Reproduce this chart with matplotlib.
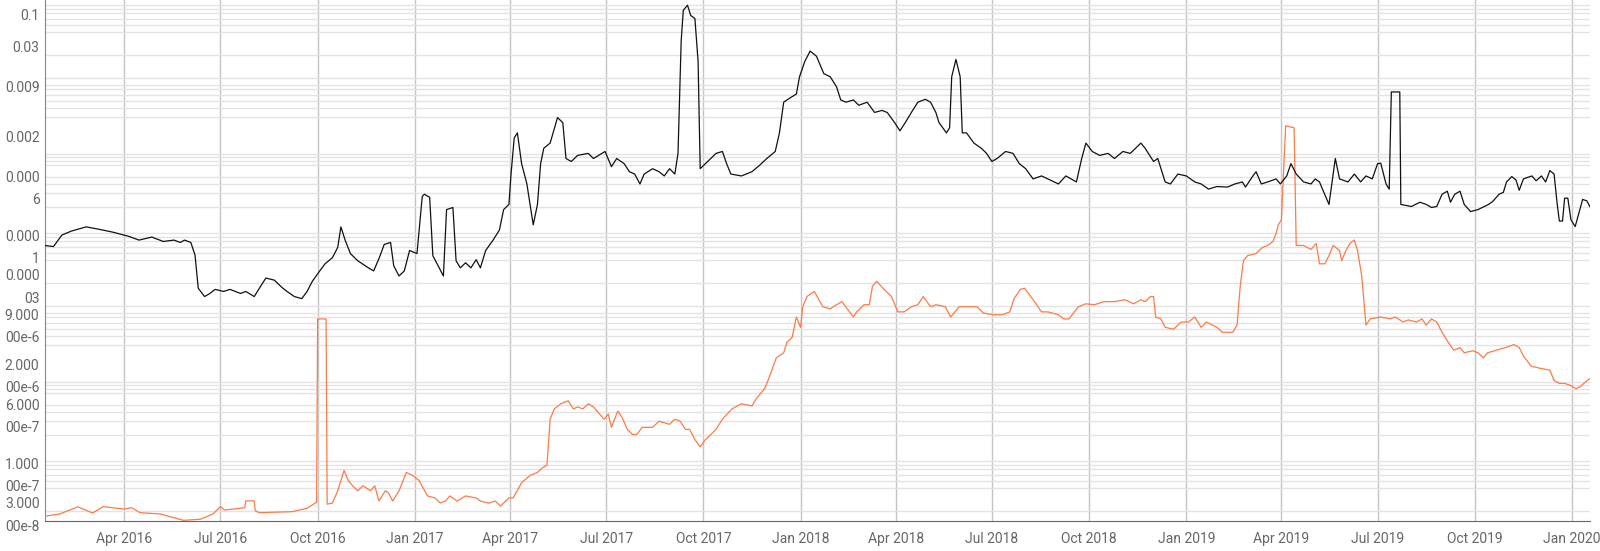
import matplotlib
matplotlib.use("Agg")
import matplotlib.pyplot as plt
import matplotlib.dates as mdates
import matplotlib.ticker as mticker
from matplotlib.transforms import ScaledTranslation
import pandas as pd

# ---------------- data ----------------
black_dates = [
    "2016-01-17", "2016-01-25", "2016-02-02", "2016-02-11", "2016-02-25", "2016-03-07", "2016-03-21",
    "2016-04-05", "2016-04-15", "2016-04-27", "2016-05-08", "2016-05-18", "2016-05-24", "2016-05-28",
    "2016-06-03", "2016-06-07", "2016-06-10", "2016-06-16", "2016-06-21", "2016-06-26", "2016-07-04",
    "2016-07-10", "2016-07-20", "2016-07-25", "2016-08-02", "2016-08-08", "2016-08-13", "2016-08-21",
    "2016-08-28", "2016-09-02", "2016-09-09", "2016-09-16", "2016-09-21", "2016-09-26", "2016-10-03",
    "2016-10-08", "2016-10-15", "2016-10-20", "2016-10-23", "2016-10-27", "2016-11-01", "2016-11-08",
    "2016-11-18", "2016-11-23", "2016-11-28", "2016-12-03", "2016-12-09", "2016-12-12", "2016-12-17",
    "2016-12-22", "2016-12-27", "2017-01-03", "2017-01-08", "2017-01-10", "2017-01-15", "2017-01-18",
    "2017-01-23", "2017-01-28", "2017-01-31", "2017-02-06", "2017-02-09", "2017-02-13", "2017-02-18",
    "2017-02-23", "2017-02-28", "2017-03-04", "2017-03-09", "2017-03-16", "2017-03-22", "2017-03-26",
    "2017-03-31", "2017-04-02", "2017-04-05", "2017-04-08", "2017-04-12", "2017-04-17", "2017-04-20",
    "2017-04-23", "2017-04-27", "2017-04-30", "2017-05-03", "2017-05-09", "2017-05-16", "2017-05-21",
    "2017-05-24", "2017-05-29", "2017-06-04", "2017-06-14", "2017-06-19", "2017-06-27", "2017-06-30",
    "2017-07-06", "2017-07-11", "2017-07-18", "2017-07-23", "2017-07-28", "2017-08-02", "2017-08-06",
    "2017-08-14", "2017-08-20", "2017-08-25", "2017-08-30", "2017-09-04", "2017-09-07", "2017-09-10",
    "2017-09-12", "2017-09-16", "2017-09-19", "2017-09-23", "2017-09-26", "2017-09-28", "2017-10-03",
    "2017-10-08", "2017-10-13", "2017-10-19", "2017-10-23", "2017-10-27", "2017-11-06", "2017-11-16",
    "2017-11-23", "2017-11-30", "2017-12-08", "2017-12-12", "2017-12-16", "2017-12-20", "2017-12-28",
    "2017-12-31", "2018-01-05", "2018-01-10", "2018-01-16", "2018-01-23", "2018-01-29", "2018-02-04",
    "2018-02-08", "2018-02-13", "2018-02-20", "2018-02-25", "2018-03-05", "2018-03-12", "2018-03-19",
    "2018-03-24", "2018-03-31", "2018-04-05", "2018-04-10", "2018-04-17", "2018-04-22", "2018-04-29",
    "2018-05-04", "2018-05-09", "2018-05-12", "2018-05-19", "2018-05-22", "2018-05-24", "2018-05-28",
    "2018-06-01", "2018-06-03", "2018-06-07", "2018-06-14", "2018-06-21", "2018-06-26", "2018-07-01",
    "2018-07-06", "2018-07-14", "2018-07-21", "2018-07-27", "2018-08-02", "2018-08-09", "2018-08-17",
    "2018-08-23", "2018-09-02", "2018-09-09", "2018-09-14", "2018-09-19", "2018-09-24", "2018-09-28",
    "2018-10-04", "2018-10-11", "2018-10-19", "2018-10-25", "2018-11-02", "2018-11-09", "2018-11-14",
    "2018-11-19", "2018-11-23", "2018-12-01", "2018-12-05", "2018-12-12", "2018-12-17", "2018-12-24",
    "2019-01-01", "2019-01-09", "2019-01-15", "2019-01-22", "2019-01-30", "2019-02-09", "2019-02-16",
    "2019-02-23", "2019-02-26", "2019-03-05", "2019-03-08", "2019-03-13", "2019-03-19", "2019-03-27",
    "2019-03-31", "2019-04-06", "2019-04-10", "2019-04-15", "2019-04-22", "2019-04-29", "2019-05-03",
    "2019-05-07", "2019-05-14", "2019-05-16", "2019-05-20", "2019-05-22", "2019-05-26", "2019-06-03",
    "2019-06-09", "2019-06-15", "2019-06-20", "2019-06-26", "2019-07-01", "2019-07-04", "2019-07-09",
    "2019-07-12", "2019-07-14", "2019-07-22", "2019-07-23", "2019-08-02", "2019-08-10", "2019-08-16",
    "2019-08-21", "2019-08-26", "2019-08-31", "2019-09-05", "2019-09-08", "2019-09-12", "2019-09-17",
    "2019-09-21", "2019-09-27", "2019-10-04", "2019-10-14", "2019-10-18", "2019-10-24", "2019-10-28",
    "2019-10-31", "2019-11-05", "2019-11-09", "2019-11-12", "2019-11-16", "2019-11-24", "2019-11-28",
    "2019-12-03", "2019-12-07", "2019-12-11", "2019-12-15", "2019-12-18", "2019-12-20", "2019-12-23",
    "2019-12-25", "2019-12-28", "2019-12-31", "2020-01-04", "2020-01-07", "2020-01-11", "2020-01-15",
    "2020-01-18",
]
black_values = [
    6.2e-5, 6.0e-5, 8.5e-5, 9.6e-5, 1.09e-4, 1.02e-4, 9.3e-5,
    8.2e-5, 7.3e-5, 8.0e-5, 7.0e-5, 7.3e-5, 6.8e-5, 7.3e-5,
    6.8e-5, 4.6e-5, 1.7e-5, 1.32e-5, 1.45e-5, 1.64e-5, 1.54e-5,
    1.64e-5, 1.45e-5, 1.54e-5, 1.32e-5, 1.8e-5, 2.31e-5, 2.17e-5,
    1.75e-5, 1.54e-5, 1.32e-5, 1.24e-5, 1.54e-5, 2.1e-5, 2.87e-5,
    3.56e-5, 4.29e-5, 5.85e-5, 1.09e-4, 7.3e-5, 4.85e-5, 3.9e-5,
    3.15e-5, 2.87e-5, 4.16e-5, 6.4e-5, 6.8e-5, 3.35e-5, 2.46e-5,
    2.87e-5, 5.33e-5, 4.85e-5, 2.75e-4, 2.93e-4, 2.67e-4, 4.56e-5,
    3.35e-5, 2.46e-5, 1.84e-4, 1.96e-4, 3.9e-5, 3.15e-5, 3.67e-5,
    3.15e-5, 4.03e-5, 3.15e-5, 5.33e-5, 7.3e-5, 9.9e-5, 1.84e-4,
    2.15e-4, 5.4e-4, 1.61e-3, 1.88e-3, 7.4e-4, 4.0e-4, 2.15e-4,
    1.16e-4, 2.15e-4, 7.4e-4, 1.18e-3, 1.38e-3, 2.99e-3, 2.56e-3,
    8.65e-4, 7.9e-4, 9.5e-4, 1.01e-3, 8.65e-4, 1.01e-3, 1.07e-3,
    6.75e-4, 8.65e-4, 7.4e-4, 5.8e-4, 5.4e-4, 4.0e-4, 5.4e-4,
    6.35e-4, 5.8e-4, 5.1e-4, 6.35e-4, 5.4e-4, 1.01e-3, 3.05e-2,
    7.7e-2, 9.0e-2, 6.6e-2, 6.0e-2, 1.64e-2, 6.35e-4, 7.4e-4,
    8.65e-4, 1.01e-3, 1.07e-3, 7.4e-4, 5.4e-4, 5.1e-4, 5.8e-4,
    7.0e-4, 8.65e-4, 1.07e-3, 1.88e-3, 4.76e-3, 5.2e-3, 6.1e-3,
    1.03e-2, 1.64e-2, 2.24e-2, 1.92e-2, 1.13e-2, 1.03e-2, 7.6e-3,
    5.1e-3, 4.76e-3, 5.1e-3, 4.34e-3, 4.76e-3, 3.49e-3, 3.71e-3,
    3.49e-3, 2.56e-3, 2.0e-3, 2.56e-3, 3.71e-3, 4.76e-3, 5.2e-3,
    4.76e-3, 3.49e-3, 2.56e-3, 1.88e-3, 2.19e-3, 1.03e-2, 1.74e-2,
    1.03e-2, 1.88e-3, 1.88e-3, 1.38e-3, 1.18e-3, 1.01e-3, 7.9e-4,
    8.65e-4, 1.07e-3, 1.01e-3, 7.4e-4, 6.35e-4, 4.66e-4, 5.1e-4,
    4.66e-4, 4.0e-4, 5.1e-4, 4.66e-4, 4.25e-4, 8.65e-4, 1.38e-3,
    1.07e-3, 9.5e-4, 1.01e-3, 8.65e-4, 1.07e-3, 1.01e-3, 1.18e-3,
    1.38e-3, 1.18e-3, 7.9e-4, 8.65e-4, 4.25e-4, 4.0e-4, 5.4e-4,
    5.1e-4, 4.25e-4, 4.0e-4, 3.42e-4, 3.7e-4, 3.64e-4, 4.0e-4,
    4.25e-4, 3.64e-4, 5.1e-4, 5.8e-4, 4.0e-4, 4.25e-4, 4.66e-4,
    4.0e-4, 5.1e-4, 7.4e-4, 5.4e-4, 4.25e-4, 4.0e-4, 4.66e-4,
    4.25e-4, 2.51e-4, 2.15e-4, 5.4e-4, 8.65e-4, 4.66e-4, 4.25e-4,
    5.4e-4, 4.25e-4, 5.1e-4, 4.66e-4, 7.4e-4, 7.5e-4, 4.0e-4,
    3.42e-4, 6.5e-3, 6.5e-3, 2.15e-4, 2.02e-4, 2.3e-4, 2.15e-4,
    1.96e-4, 2.02e-4, 2.93e-4, 3.21e-4, 2.3e-4, 2.93e-4, 3.21e-4,
    2.15e-4, 1.73e-4, 1.84e-4, 2.15e-4, 2.36e-4, 2.93e-4, 3.1e-4,
    4.25e-4, 5.0e-4, 4.5e-4, 3.3e-4, 4.66e-4, 5.1e-4, 4.4e-4,
    5.1e-4, 4.25e-4, 6.0e-4, 5.4e-4, 2.15e-4, 1.3e-4, 1.3e-4,
    2.6e-4, 2.6e-4, 1.35e-4, 1.1e-4, 1.57e-4, 2.5e-4, 2.4e-4,
    2.0e-4,
]

orange_dates = [
    "2016-01-17", "2016-01-31", "2016-02-17", "2016-03-02", "2016-03-12", "2016-04-01", "2016-04-08",
    "2016-04-16", "2016-05-05", "2016-05-27", "2016-06-12", "2016-06-24", "2016-07-01", "2016-07-05",
    "2016-07-24", "2016-07-25", "2016-08-02", "2016-08-03", "2016-08-07", "2016-09-07", "2016-09-21",
    "2016-09-30", "2016-10-01", "2016-10-09", "2016-10-10", "2016-10-15", "2016-10-20", "2016-10-23",
    "2016-10-26", "2016-10-30", "2016-11-03", "2016-11-08", "2016-11-13", "2016-11-20", "2016-11-24",
    "2016-11-28", "2016-12-04", "2016-12-07", "2016-12-11", "2016-12-17", "2016-12-24", "2016-12-30",
    "2017-01-05", "2017-01-13", "2017-01-20", "2017-01-25", "2017-01-30", "2017-02-03", "2017-02-10",
    "2017-02-18", "2017-02-28", "2017-03-04", "2017-03-12", "2017-03-18", "2017-03-23", "2017-03-31",
    "2017-04-04", "2017-04-12", "2017-04-20", "2017-04-27", "2017-05-01", "2017-05-06", "2017-05-09",
    "2017-05-13", "2017-05-19", "2017-05-26", "2017-05-31", "2017-06-04", "2017-06-09", "2017-06-14",
    "2017-06-19", "2017-06-29", "2017-07-03", "2017-07-06", "2017-07-12", "2017-07-16", "2017-07-21",
    "2017-07-26", "2017-07-30", "2017-08-04", "2017-08-14", "2017-08-20", "2017-08-30", "2017-09-04",
    "2017-09-09", "2017-09-14", "2017-09-18", "2017-09-23", "2017-09-28", "2017-10-03", "2017-10-13",
    "2017-10-19", "2017-10-28", "2017-11-06", "2017-11-16", "2017-11-20", "2017-11-28", "2017-12-02",
    "2017-12-09", "2017-12-16", "2017-12-19", "2017-12-24", "2017-12-28", "2018-01-01", "2018-01-03",
    "2018-01-07", "2018-01-14", "2018-01-22", "2018-01-29", "2018-02-04", "2018-02-09", "2018-02-15",
    "2018-02-20", "2018-02-23", "2018-03-02", "2018-03-07", "2018-03-10", "2018-03-14", "2018-03-21",
    "2018-03-28", "2018-04-03", "2018-04-09", "2018-04-16", "2018-04-22", "2018-04-27", "2018-05-04",
    "2018-05-09", "2018-05-18", "2018-05-23", "2018-05-31", "2018-06-07", "2018-06-17", "2018-06-23",
    "2018-07-03", "2018-07-11", "2018-07-18", "2018-07-22", "2018-07-28", "2018-08-01", "2018-08-09",
    "2018-08-17", "2018-08-23", "2018-09-02", "2018-09-07", "2018-09-12", "2018-09-17", "2018-09-21",
    "2018-09-28", "2018-10-06", "2018-10-15", "2018-10-25", "2018-11-04", "2018-11-12", "2018-11-19",
    "2018-11-23", "2018-11-28", "2018-12-01", "2018-12-03", "2018-12-08", "2018-12-12", "2018-12-20",
    "2018-12-27", "2019-01-03", "2019-01-09", "2019-01-15", "2019-01-20", "2019-01-30", "2019-02-04",
    "2019-02-14", "2019-02-18", "2019-02-21", "2019-02-24", "2019-02-28", "2019-03-08", "2019-03-14",
    "2019-03-19", "2019-03-24", "2019-03-27", "2019-03-29", "2019-04-01", "2019-04-05", "2019-04-13",
    "2019-04-15", "2019-04-22", "2019-04-29", "2019-05-04", "2019-05-07", "2019-05-12", "2019-05-16",
    "2019-05-20", "2019-05-26", "2019-05-28", "2019-06-01", "2019-06-05", "2019-06-09", "2019-06-12",
    "2019-06-16", "2019-06-20", "2019-06-24", "2019-07-04", "2019-07-13", "2019-07-18", "2019-07-25",
    "2019-07-30", "2019-08-07", "2019-08-12", "2019-08-16", "2019-08-21", "2019-08-26", "2019-08-31",
    "2019-09-06", "2019-09-11", "2019-09-17", "2019-09-21", "2019-09-29", "2019-10-04", "2019-10-09",
    "2019-10-13", "2019-10-23", "2019-10-30", "2019-11-07", "2019-11-12", "2019-11-16", "2019-11-23",
    "2019-12-01", "2019-12-11", "2019-12-15", "2019-12-20", "2019-12-25", "2019-12-30", "2020-01-05",
    "2020-01-09", "2020-01-14", "2020-01-18",
]
orange_values = [
    1.7e-8, 1.82e-8, 2.26e-8, 1.87e-8, 2.27e-8, 2.11e-8, 2.2e-8,
    1.89e-8, 1.82e-8, 1.5e-8, 1.55e-8, 1.82e-8, 2.27e-8, 2.05e-8,
    2.2e-8, 2.7e-8, 2.7e-8, 2.0e-8, 1.89e-8, 1.95e-8, 2.16e-8,
    2.6e-8, 6.7e-6, 6.7e-6, 2.45e-8, 2.53e-8, 3.67e-8, 5.0e-8,
    6.8e-8, 5.0e-8, 4.28e-8, 3.67e-8, 4.28e-8, 3.67e-8, 4.28e-8,
    2.69e-8, 3.67e-8, 3.45e-8, 2.69e-8, 3.67e-8, 6.4e-8, 5.85e-8,
    5.0e-8, 3.14e-8, 2.96e-8, 2.53e-8, 2.69e-8, 3.14e-8, 2.69e-8,
    3.14e-8, 2.96e-8, 2.69e-8, 2.53e-8, 2.69e-8, 2.31e-8, 2.96e-8,
    2.96e-8, 4.7e-8, 5.85e-8, 6.4e-8, 7.26e-8, 7.96e-8, 3.21e-7,
    4.38e-7, 5.12e-7, 5.61e-7, 4.38e-7, 4.66e-7, 4.38e-7, 5.12e-7,
    4.66e-7, 3.21e-7, 3.75e-7, 2.51e-7, 4.11e-7, 3.42e-7, 2.36e-7,
    2.02e-7, 2.02e-7, 2.51e-7, 2.51e-7, 3.02e-7, 2.75e-7, 3.21e-7,
    3.02e-7, 2.36e-7, 2.36e-7, 1.73e-7, 1.39e-7, 1.73e-7, 2.36e-7,
    3.21e-7, 4.38e-7, 5.12e-7, 4.81e-7, 5.97e-7, 8.13e-7, 1.11e-6,
    2.06e-6, 2.4e-6, 3.28e-6, 3.83e-6, 7.1e-6, 5.2e-6, 9.7e-6,
    1.32e-5, 1.54e-5, 9.7e-6, 9.1e-6, 1.03e-5, 1.13e-5, 8.8e-6,
    7.1e-6, 8.3e-6, 1.03e-5, 1.03e-5, 1.8e-5, 2.1e-5, 1.64e-5,
    1.32e-5, 8.3e-6, 8.3e-6, 9.7e-6, 1.03e-5, 1.32e-5, 9.7e-6,
    1.03e-5, 9.7e-6, 7.1e-6, 9.7e-6, 9.7e-6, 9.7e-6, 8.0e-6,
    7.6e-6, 7.6e-6, 8.3e-6, 1.24e-5, 1.64e-5, 1.7e-5, 1.2e-5,
    8.3e-6, 8.3e-6, 7.6e-6, 6.7e-6, 6.7e-6, 8.3e-6, 9.7e-6,
    1.06e-5, 1.03e-5, 1.13e-5, 1.13e-5, 1.2e-5, 1.06e-5, 1.2e-5,
    1.13e-5, 1.32e-5, 1.32e-5, 7.1e-6, 6.7e-6, 5.2e-6, 4.9e-6,
    6.1e-6, 6.1e-6, 7.1e-6, 5.2e-6, 6.1e-6, 5.2e-6, 4.47e-6,
    4.47e-6, 5.55e-6, 1.8e-5, 3.9e-5, 4.56e-5, 4.85e-5, 5.85e-5,
    6.2e-5, 7.0e-5, 9.0e-5, 1.16e-4, 1.35e-4, 2.33e-3, 2.19e-3,
    6.2e-5, 6.2e-5, 5.5e-5, 6.6e-5, 3.56e-5, 3.56e-5, 4.56e-5,
    6.2e-5, 5.33e-5, 3.9e-5, 5.33e-5, 6.6e-5, 7.3e-5, 5.33e-5,
    2.46e-5, 5.55e-6, 6.7e-6, 7.1e-6, 6.7e-6, 7.1e-6, 6.1e-6,
    6.5e-6, 6.1e-6, 6.7e-6, 5.55e-6, 6.7e-6, 6.1e-6, 4.47e-6,
    3.28e-6, 2.6e-6, 2.81e-6, 2.4e-6, 2.56e-6, 2.4e-6, 2.06e-6,
    2.4e-6, 2.64e-6, 2.81e-6, 3.08e-6, 2.81e-6, 2.19e-6, 1.61e-6,
    1.51e-6, 1.42e-6, 1.04e-6, 9.5e-7, 9.5e-7, 9.0e-7, 8.1e-7,
    8.65e-7, 1.0e-6, 1.1e-6,
]

ytick_values = [0.1, 0.03, 0.009, 0.002, 0.0006, 0.0001, 3e-5, 9e-6, 2e-6, 6e-7, 1e-7, 3e-8]
ytick_labels = ["0.1", "0.03", "0.009", "0.002", "0.000\n6", "0.000\n1", "0.000\n03",
                "9.000\n00e-6", "2.000\n00e-6", "6.000\n00e-7", "1.000\n00e-7", "3.000\n00e-8"]

# ---------------- figure ----------------
plt.rcParams['font.family'] = ['Roboto', 'DejaVu Sans']
W, H = 1600, 551
fig = plt.figure(figsize=(W / 100, H / 100), dpi=100)
ax = fig.add_axes([45 / W, 30 / H, (1590 - 45) / W, 521 / H])

bd = pd.to_datetime(black_dates)
od = pd.to_datetime(orange_dates)
ax.plot(od, orange_values, color='#ff7a45', lw=0.9, zorder=3)
ax.plot(bd, black_values, color='#111111', lw=0.9, zorder=4)

ax.set_yscale('log')
ax.set_ylim(1.47e-8, 0.1053)
ax.set_xlim(pd.Timestamp('2016-01-17'), pd.Timestamp('2020-01-18'))

# y ticks
ax.yaxis.set_major_locator(mticker.FixedLocator(ytick_values))
ax.yaxis.set_major_formatter(mticker.FixedFormatter(ytick_labels))
ax.yaxis.set_minor_locator(mticker.LogLocator(base=10, subs=range(1, 10), numticks=50))
ax.yaxis.set_minor_formatter(mticker.NullFormatter())
ax.tick_params(axis='y', which='both', length=0, pad=4, labelsize=10, labelcolor='#666666')
ax.grid(True, axis='y', which='minor', color='#e3e3e3', lw=1.0, zorder=0)
ax.grid(False, axis='y', which='major')

fig.canvas.draw()
for i, lab in enumerate(ax.get_yticklabels()):
    lab.set_verticalalignment('top')
    lab.set_linespacing(1.75)
    if i == 0:
        lab.set_transform(lab.get_transform() + ScaledTranslation(0, -5 / 72, fig.dpi_scale_trans))

# x ticks
qticks = pd.date_range('2016-04-01', '2020-01-01', freq='QS')
ax.set_xticks(qticks)
ax.xaxis.set_major_formatter(mdates.DateFormatter('%b %Y'))
ax.tick_params(axis='x', length=0, pad=8, labelsize=10, labelcolor='#666666')
ax.grid(True, axis='x', which='major', color='#c4c4c4', lw=1.0, zorder=0)

for s in ['top', 'right']:
    ax.spines[s].set_visible(False)
ax.spines['left'].set_color('#888888')
ax.spines['bottom'].set_color('#666666')
ax.set_axisbelow(True)

fig.savefig('out.png', dpi=100)
